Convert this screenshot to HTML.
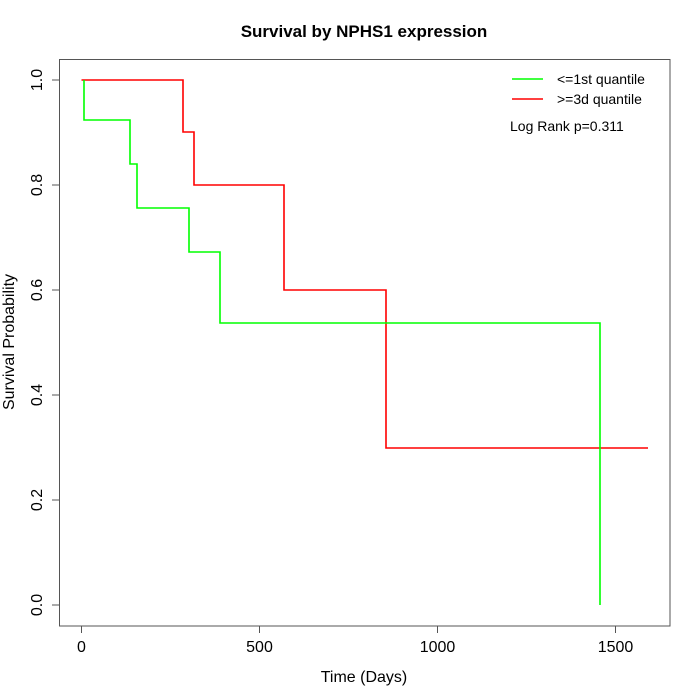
<!DOCTYPE html>
<html><head><meta charset="utf-8"><style>
html,body{margin:0;padding:0;background:#fff;}
svg{display:block;font-family:"Liberation Sans",Arial,sans-serif;}
</style></head><body>
<svg width="700" height="700" viewBox="0 0 700 700" xmlns="http://www.w3.org/2000/svg">
<rect width="700" height="700" fill="#fff"/>
<text x="364" y="37" text-anchor="middle" font-size="17" font-weight="bold">Survival by NPHS1 expression</text>
<rect x="59.5" y="59.5" width="610.5" height="566.5" fill="none" stroke="#555" stroke-width="1"/>
<g stroke="#555" stroke-width="1">
<line x1="81.5" y1="626" x2="81.5" y2="633"/>
<line x1="259.5" y1="626" x2="259.5" y2="633"/>
<line x1="437.5" y1="626" x2="437.5" y2="633"/>
<line x1="615.5" y1="626" x2="615.5" y2="633"/>
<line x1="52" y1="80" x2="59.5" y2="80"/>
<line x1="52" y1="185" x2="59.5" y2="185"/>
<line x1="52" y1="290" x2="59.5" y2="290"/>
<line x1="52" y1="395" x2="59.5" y2="395"/>
<line x1="52" y1="500" x2="59.5" y2="500"/>
<line x1="52" y1="605" x2="59.5" y2="605"/>
</g>
<g font-size="16" text-anchor="middle" fill="#000">
<text x="81.5" y="652">0</text>
<text x="259.5" y="652">500</text>
<text x="437.5" y="652">1000</text>
<text x="615.5" y="652">1500</text>
<text x="364" y="682">Time (Days)</text>
<text transform="translate(42,80) rotate(-90)">1.0</text>
<text transform="translate(42,185) rotate(-90)">0.8</text>
<text transform="translate(42,290) rotate(-90)">0.6</text>
<text transform="translate(42,395) rotate(-90)">0.4</text>
<text transform="translate(42,500) rotate(-90)">0.2</text>
<text transform="translate(42,605) rotate(-90)">0.0</text>
<text transform="translate(14,342) rotate(-90)">Survival Probability</text>
</g>
<polyline fill="none" stroke="#ff0000" stroke-width="1.6" points="81.5,80 183,80 183,132 194,132 194,185 284,185 284,290 386,290 386,448 648,448"/>
<polyline fill="none" stroke="#00ff00" stroke-width="1.6" points="84,80 84,120 130,120 130,164 137,164 137,208 189,208 189,252 220,252 220,323 600,323 600,605"/>
<line x1="512" y1="79" x2="543" y2="79" stroke="#00ff00" stroke-width="1.6"/>
<line x1="512" y1="99" x2="543" y2="99" stroke="#ff0000" stroke-width="1.6"/>
<g font-size="14" fill="#000">
<text x="557" y="84">&lt;=1st quantile</text>
<text x="557" y="104">&gt;=3d quantile</text>
<text x="510" y="131">Log Rank p=0.311</text>
</g>
</svg>
</body></html>
